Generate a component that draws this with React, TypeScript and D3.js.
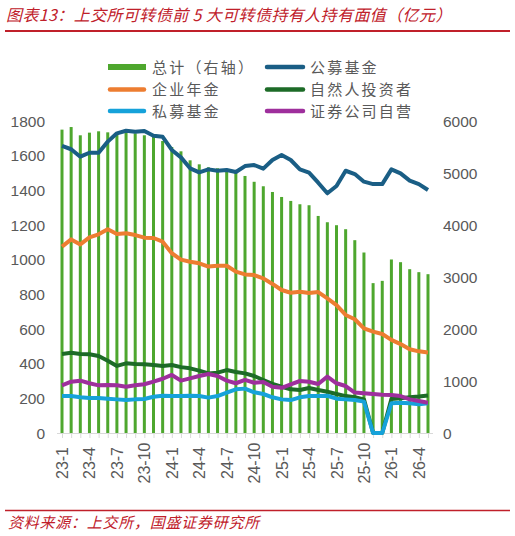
import React from "react";
import * as d3 from "d3";

const months: string[] = [
  "23-1","23-2","23-3","23-4","23-5","23-6","23-7","23-8","23-9","23-10","23-11","23-12",
  "24-1","24-2","24-3","24-4","24-5","24-6","24-7","24-8","24-9","24-10","24-11","24-12",
  "25-1","25-2","25-3","25-4","25-5","25-6","25-7","25-8","25-9","25-10","25-11","25-12",
  "26-1","26-2","26-3","26-4","26-5",
];

const total: number[] = [
  5834, 5884, 5725, 5776, 5802, 5782, 5769, 5802, 5763, 5725, 5692, 5615,
  5500, 5417, 5244, 5167, 5110, 5091, 5071, 5033, 4943, 4831, 4745, 4635,
  4539, 4463, 4399, 4380, 4174, 4053, 3996, 3919, 3708, 3471, 2882, 2926,
  3337, 3285, 3150, 3093, 3054,
];

const publicFund: number[] = [
  1656, 1637, 1594, 1617, 1617, 1681, 1729, 1744, 1738, 1742, 1715, 1709,
  1633, 1590, 1527, 1504, 1521, 1513, 1517, 1506, 1540, 1546, 1525, 1575,
  1604, 1575, 1521, 1502, 1444, 1383, 1425, 1513, 1494, 1450, 1436, 1436,
  1521, 1498, 1456, 1436, 1402,
];

const annuity: number[] = [
  1075, 1117, 1088, 1129, 1146, 1175, 1148, 1152, 1142, 1127, 1125, 1104,
  1037, 1000, 988, 979, 960, 965, 965, 931, 915, 911, 892, 860,
  825, 809, 815, 808, 813, 777, 738, 681, 656, 604, 585, 571,
  537, 513, 483, 471, 465,
];

const individual: number[] = [
  456, 463, 456, 454, 444, 417, 387, 402, 398, 396, 392, 387,
  392, 380, 373, 360, 344, 348, 363, 352, 344, 329, 306, 283,
  267, 252, 248, 260, 248, 238, 225, 213, 206, 194, 0, 0,
  196, 200, 206, 210, 216,
];

const privateFund: number[] = [
  213, 213, 206, 202, 202, 198, 194, 190, 194, 196, 209, 215,
  213, 214, 215, 213, 204, 213, 233, 252, 256, 235, 225, 206,
  194, 190, 206, 213, 213, 215, 198, 194, 190, 181, 0, 0,
  171, 175, 171, 166, 171,
];

const brokerage: number[] = [
  275, 296, 302, 287, 275, 277, 275, 267, 275, 281, 296, 313,
  335, 302, 315, 329, 340, 329, 302, 287, 306, 290, 294, 267,
  261, 281, 300, 296, 283, 325, 287, 271, 233, 229, 225, 221,
  219, 213, 194, 185, 175,
];

const leftTicks: number[] = [0, 200, 400, 600, 800, 1000, 1200, 1400, 1600, 1800];
const rightTicks: number[] = [0, 1000, 2000, 3000, 4000, 5000, 6000];

const seriesNames = ["总计（右轴）", "公募基金", "企业年金", "自然人投资者", "私募基金", "证券公司自营"];
const colors = ["#4EA72E", "#1A5E85", "#ED7D31", "#1D6B27", "#16A2DA", "#9E2F9C"];

const title = "图表13：上交所可转债前 5 大可转债持有人持有面值（亿元）";
const source = "资料来源：上交所，国盛证券研究所";

export default function App() {
  const W = 515, H = 536;
  const x = d3.scalePoint<string>().domain(months).range([62, 428]);
  const yL = d3.scaleLinear().domain([0, 1800]).range([433, 121]);
  const yR = d3.scaleLinear().domain([0, 6000]).range([433, 121]);

  const lineL = (vals: number[]) =>
    d3.line<number>()
      .x((_, i) => x(months[i]) as number)
      .y((v) => yL(v))(vals) as string;

  const lines: [number[], string][] = [
    [publicFund, colors[1]],
    [annuity, colors[2]],
    [individual, colors[3]],
    [privateFund, colors[4]],
    [brokerage, colors[5]],
  ];

  const axisFont = "'Liberation Sans', Arial, sans-serif";
  const cjkFont = "'Noto Sans CJK SC', sans-serif";
  const gray = "#595959";
  const red = "#C0202A";

  const legendItems = [
    { name: seriesNames[0], color: colors[0], col: 0, row: 0, bar: true },
    { name: seriesNames[1], color: colors[1], col: 1, row: 0, bar: false },
    { name: seriesNames[2], color: colors[2], col: 0, row: 1, bar: false },
    { name: seriesNames[3], color: colors[3], col: 1, row: 1, bar: false },
    { name: seriesNames[4], color: colors[4], col: 0, row: 2, bar: false },
    { name: seriesNames[5], color: colors[5], col: 1, row: 2, bar: false },
  ];
  const rowY = [67, 89.5, 111];
  const swX = [[108, 146], [265, 305]];
  const textX = [152, 310];

  return (
    <svg width={W} height={H} style={{ position: "absolute", left: 0, top: 0 }}>
      <rect x={0} y={0} width={W} height={H} fill="#fff" />
      <text x={6} y={21} fontFamily={cjkFont} fontSize={16} fontStyle="italic" letterSpacing={0.4} fill={red}>{title}</text>
      <line x1={5} x2={510} y1={31} y2={31} stroke={red} strokeWidth={2} />

      {/* legend */}
      {legendItems.map((it, i) => (
        <g key={i}>
          {it.bar ? (
            <rect x={swX[it.col][0]} y={rowY[it.row] - 3} width={swX[it.col][1] - swX[it.col][0]} height={6} fill={it.color} />
          ) : (
            <line x1={swX[it.col][0] + 2} x2={swX[it.col][1] - 2} y1={rowY[it.row]} y2={rowY[it.row]} stroke={it.color} strokeWidth={4.5} strokeLinecap="round" />
          )}
          <text x={textX[it.col]} y={rowY[it.row] + 5.5} fontFamily={cjkFont} fontSize={15} letterSpacing={2.2} fill={gray}>{it.name}</text>
        </g>
      ))}

      {/* axis line and ticks */}
      <line x1={57} x2={433} y1={433.5} y2={433.5} stroke="#D9D9D9" strokeWidth={1} />
      {months.map((m) => (
        <line key={"t" + m} x1={(x(m) as number) + 0.5} x2={(x(m) as number) + 0.5} y1={433} y2={438} stroke="#D9D9D9" strokeWidth={1} />
      ))}

      {/* bars */}
      {total.map((v, i) => (
        <rect key={"b" + i} x={(x(months[i]) as number) - 1.5} y={yR(v)} width={3} height={yR(0) - yR(v)} fill={colors[0]} />
      ))}

      {/* lines */}
      {lines.map(([vals, c], i) => (
        <path key={"l" + i} d={lineL(vals)} fill="none" stroke={c} strokeWidth={4} strokeLinejoin="round" strokeLinecap="butt" />
      ))}

      {/* left axis labels */}
      {leftTicks.map((t) => (
        <text key={"yl" + t} x={45} y={yL(t) + 5.5} textAnchor="end" fontFamily={axisFont} fontSize={15.5} fill={gray}>{t}</text>
      ))}
      {/* right axis labels */}
      {rightTicks.map((t) => (
        <text key={"yr" + t} x={443} y={yR(t) + 5.5} textAnchor="start" fontFamily={axisFont} fontSize={15.5} fill={gray}>{t}</text>
      ))}

      {/* x labels */}
      {months.map((m, i) =>
        i % 3 === 0 ? (
          <text key={"xl" + m} transform={`translate(${(x(m) as number) + 6},463) rotate(-90)`} textAnchor="middle" fontFamily={axisFont} fontSize={16} fill={gray}>{m}</text>
        ) : null
      )}

      <line x1={5} x2={510} y1={510.5} y2={510.5} stroke={red} strokeWidth={1.5} />
      <text x={8} y={528} fontFamily={cjkFont} fontSize={15} fontStyle="italic" letterSpacing={0.75} fill={red}>{source}</text>
    </svg>
  );
}
